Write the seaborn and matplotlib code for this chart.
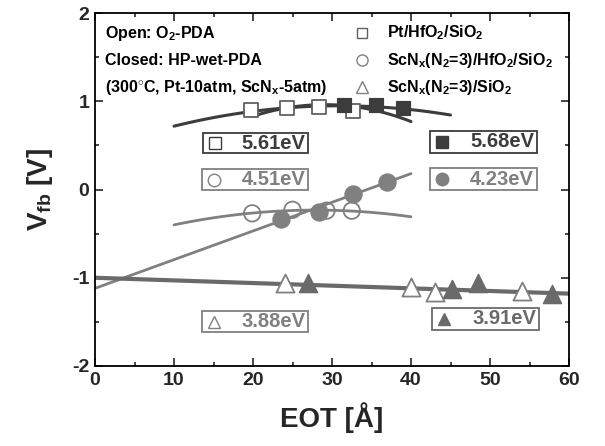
import numpy as np
import pandas as pd
import matplotlib
matplotlib.use("Agg")
import matplotlib.pyplot as plt
from matplotlib.patches import Rectangle
import seaborn as sns

# ---- data ----
sq_open_x = [19.8, 24.3, 28.4, 32.7]
sq_open_y = [0.90, 0.92, 0.94, 0.89]
sq_fill_x = [31.5, 35.6, 39.0]
sq_fill_y = [0.96, 0.96, 0.92]
ci_open_x = [19.9, 25.0, 29.3, 32.5]
ci_open_y = [-0.27, -0.23, -0.24, -0.24]
ci_fill_x = [23.5, 28.3, 32.6, 37.0]
ci_fill_y = [-0.33, -0.26, -0.05, 0.09]
tr_open_x = [24.1, 40.0, 43.0, 54.0]
tr_open_y = [-1.06, -1.10, -1.16, -1.15]
tr_fill_x = [27.0, 45.2, 48.5, 57.9]
tr_fill_y = [-1.06, -1.13, -1.06, -1.18]

# fit curves
fitA_x = [10, 20, 30, 40, 45]
fitA_y = [0.72, 0.88, 0.95, 0.91, 0.84]
fitB_x = [20, 30, 40]
fitB_y = [0.83, 0.96, 0.77]
fitC_x = [10, 20, 28, 40]
fitC_y = [-0.40, -0.27, -0.23, -0.31]
fitD_x = [0, 40]
fitD_y = [-1.12, 0.18]
fitE_x = [0, 60]
fitE_y = [-1.00, -1.18]

labels_box = ["5.61eV", "4.51eV", "5.68eV", "4.23eV", "3.88eV", "3.91eV"]
legend_lines = ["Pt/HfO$_2$/SiO$_2$", "ScN$_x$(N$_2$=3)/HfO$_2$/SiO$_2$", "ScN$_x$(N$_2$=3)/SiO$_2$"]
info_lines = ["Open: O$_2$-PDA", "Closed: HP-wet-PDA", "(300$^{\\circ}$C, Pt-10atm, ScN$_x$-5atm)"]

sns.set_style("ticks")
plt.rcParams['font.family'] = ['Liberation Sans', 'DejaVu Sans']
plt.rcParams['font.weight'] = 'bold'
plt.rcParams['axes.unicode_minus'] = False
plt.rcParams['mathtext.fontset'] = 'custom'
plt.rcParams['mathtext.rm'] = 'Liberation Sans:bold'
plt.rcParams['mathtext.it'] = 'Liberation Sans:bold'
plt.rcParams['mathtext.bf'] = 'Liberation Sans:bold'
plt.rcParams['mathtext.default'] = 'bf'

DARK = '#3c3c3c'
GRAY = '#808080'
SQE = '#606060'
TGRAY = '#6a6a6a'

fig = plt.figure(figsize=(6.05, 4.46), dpi=100)
ax = fig.add_axes([95/605, 1-366/446, 474/605, 353/446])

def smooth(xs, ys, deg):
    c = np.polyfit(xs, ys, deg)
    xx = np.linspace(min(xs), max(xs), 100)
    return pd.DataFrame({'x': xx, 'y': np.polyval(c, xx)})

dA = smooth(fitA_x, fitA_y, 2)
dB = smooth(fitB_x, fitB_y, 2)
dC = smooth(fitC_x, fitC_y, 2)
sns.lineplot(data=dA, x='x', y='y', color=DARK, lw=2.2, ax=ax)
sns.lineplot(data=dB, x='x', y='y', color=DARK, lw=2.2, ax=ax)
sns.lineplot(data=dC, x='x', y='y', color=GRAY, lw=2.0, ax=ax)
sns.lineplot(x=fitD_x, y=fitD_y, color=GRAY, lw=2.0, ax=ax)
sns.lineplot(x=fitE_x, y=fitE_y, color=TGRAY, lw=3.0, ax=ax)

sns.scatterplot(x=sq_open_x, y=sq_open_y, marker='s', s=95, facecolor='white',
                edgecolor=SQE, linewidth=1.3, ax=ax, zorder=3)
sns.scatterplot(x=sq_fill_x, y=sq_fill_y, marker='s', s=110, color=DARK,
                edgecolor=DARK, ax=ax, zorder=4)
sns.scatterplot(x=ci_open_x, y=ci_open_y, marker='o', s=140, facecolor='none',
                edgecolor=GRAY, linewidth=1.3, ax=ax, zorder=3)
sns.scatterplot(x=ci_fill_x, y=ci_fill_y, marker='o', s=150, color=GRAY,
                edgecolor=GRAY, ax=ax, zorder=4)
sns.scatterplot(x=tr_open_x, y=tr_open_y, marker='^', s=170, facecolor='white',
                edgecolor=GRAY, linewidth=1.3, ax=ax, zorder=3)
sns.scatterplot(x=tr_fill_x, y=tr_fill_y, marker='^', s=170, color=TGRAY,
                edgecolor=TGRAY, ax=ax, zorder=4)

ax.set_xlim(0, 60)
ax.set_ylim(-2, 2)
ax.set_xticks([0, 10, 20, 30, 40, 50, 60])
ax.set_xticks([5, 15, 25, 35, 45, 55], minor=True)
ax.set_yticks([-2, -1, 0, 1, 2])
ax.set_yticks([-1.5, -0.5, 0.5, 1.5], minor=True)
ax.tick_params(which='both', direction='in', top=True, right=True, width=1.2)
ax.tick_params(which='major', length=6, labelsize=14, pad=4)
ax.tick_params(which='minor', length=3)
for s in ax.spines.values():
    s.set_linewidth(1.3)
    s.set_color('black')
ax.set_xlabel("EOT [Å]", fontsize=20, fontweight='bold', labelpad=10)
ax.set_ylabel("V$_{fb}$ [V]", fontsize=20, fontweight='bold', labelpad=12)

# info text
tr = ax.transAxes
for i, t in enumerate(info_lines):
    ax.text(10/474, 1 - (20 + 27*i)/353, t, transform=tr, fontsize=11.5,
            fontweight='bold', va='center', ha='left', color='black')
# legend
lmarks = [('s', 'white', SQE, 7), ('o', 'white', GRAY, 8), ('^', 'white', GRAY, 9)]
for i, (t, (m, fc, ec, ms)) in enumerate(zip(legend_lines, lmarks)):
    y = 1 - (20 + 27*i)/353
    ax.plot([267/474], [y], marker=m, ms=ms, mfc=fc, mec=ec, mew=1.0,
            transform=tr, ls='none', clip_on=False)
    ax.text(292/474, y, t, transform=tr, fontsize=11.5, fontweight='bold',
            va='center', ha='left', color='black')

# annotation boxes: (x0, x1, y0, y1) in pixels, marker, fill, color
boxes = [
    ((202.7, 308.3, 132.7, 153.3), 's', 'white', DARK),
    ((202.0, 308.0, 169.0, 190.0), 'o', 'white', GRAY),
    ((430.0, 537.0, 130.7, 152.7), 's', DARK, DARK),
    ((430.0, 537.0, 168.0, 190.0), 'o', GRAY, GRAY),
    ((201.7, 308.0, 311.0, 332.3), '^', 'white', GRAY),
    ((432.0, 539.0, 307.5, 329.5), '^', TGRAY, TGRAY),
]
for lab, ((x0, x1, y0, y1), m, fc, col) in zip(labels_box, boxes):
    fx0 = (x0 - 95)/474; fx1 = (x1 - 95)/474
    fy0 = (366 - y1)/353; fy1 = (366 - y0)/353
    ax.add_patch(Rectangle((fx0, fy0), fx1 - fx0, fy1 - fy0, transform=tr,
                           fill=False, edgecolor=col, lw=1.3, zorder=5))
    ym = (fy0 + fy1)/2
    ax.plot([fx0 + 12/474], [ym], marker=m, ms=9 if m != 's' else 8, mfc=fc,
            mec=col, mew=1.0, transform=tr, ls='none', zorder=6)
    ax.text(fx1 - 3/474, ym, lab, transform=tr, fontsize=14.5, fontweight='bold',
            color=col, ha='right', va='center', zorder=6)

fig.savefig("out.png", dpi=100)
